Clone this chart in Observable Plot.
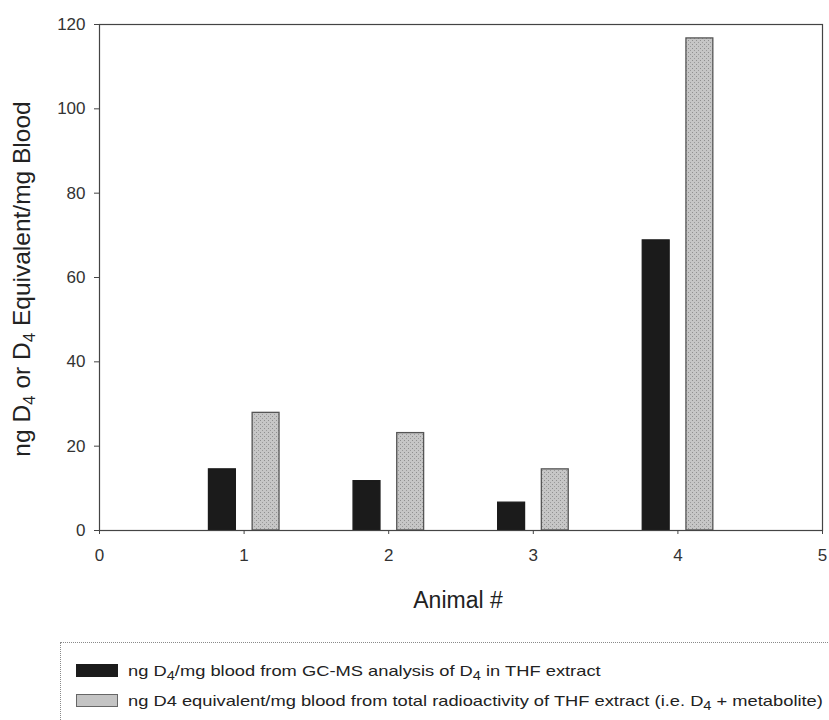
<!DOCTYPE html>
<html>
<head>
<meta charset="utf-8">
<script src="https://cdn.jsdelivr.net/npm/d3@7"></script>
<script src="https://cdn.jsdelivr.net/npm/@observablehq/plot@0.6"></script>
<style>
  body { margin: 0; background: #fff; font-family: "Liberation Sans", Arial, sans-serif; overflow: hidden; }
  #wrap { position: relative; width: 829px; height: 720px; overflow: hidden; }
  #legend { position: absolute; left: 60px; top: 642px; width: 800px; height: 120px;
            border: 1px dotted #8a8a8a; box-sizing: border-box; }
  .row { position: absolute; left: 15px; display: flex; align-items: center; font-size: 15px; color: #222; white-space: nowrap; }
  .sw { width: 42px; height: 13px; margin-right: 10px; box-sizing: border-box; flex: none; }
  .txt { display: inline-block; transform-origin: left center; transform: scaleX(1.22); }
  sub { font-size: 0.8em; vertical-align: -0.35em; line-height: 0; }
</style>
</head>
<body>
<div id="wrap"></div>
<script>
const animals = [1, 2, 3, 4];
const gcms = [14.5, 11.7, 6.6, 68.8];
const radio = [27.9, 23.1, 14.5, 116.7];
const xTicks = [0, 1, 2, 3, 4, 5];
const yTicks = [0, 20, 40, 60, 80, 100, 120];

const gcmsRows = animals.map((a, i) => ({animal: a, value: gcms[i]}));
const radioRows = animals.map((a, i) => ({animal: a, value: radio[i]}));
const offG = -0.15, offR = 0.152, half = 0.093;

const plot = Plot.plot({
  width: 829,
  height: 640,
  marginLeft: 99,
  marginRight: 7,
  marginTop: 24,
  marginBottom: 110,
  style: {fontFamily: "Liberation Sans, Arial, sans-serif", background: "#fff", color: "#333"},
  x: {domain: [0, 5]},
  y: {domain: [0, 120]},
  marks: [
    Plot.rectY(gcmsRows, {
      x1: d => d.animal + offG - half, x2: d => d.animal + offG + half, y: "value",
      fill: "#1b1b1b", stroke: "#1b1b1b", strokeWidth: 1.3
    }),
    Plot.rectY(radioRows, {
      x1: d => d.animal + offR - half, x2: d => d.animal + offR + half, y: "value",
      fill: "url(#stipple)", stroke: "#555", strokeWidth: 1.3
    }),
    Plot.frame({stroke: "#444", strokeWidth: 1.2}),
    Plot.axisY({ticks: yTicks, tickSize: 5, tickPadding: 9, fontSize: 17, label: null, stroke: "#444"}),
    Plot.axisX({ticks: xTicks, tickFormat: d3.format("d"), tickSize: 4, tickPadding: 14, fontSize: 17, label: null, stroke: "#444"})
  ]
});
document.getElementById("wrap").appendChild(plot);

const svg = d3.select(plot);
// stipple pattern for the grey bars
const pat = svg.insert("defs", ":first-child").append("pattern")
  .attr("id", "stipple").attr("patternUnits", "userSpaceOnUse")
  .attr("width", 4).attr("height", 4);
pat.append("rect").attr("width", 4).attr("height", 4).attr("fill", "#c6c6c6");
pat.append("rect").attr("x", 0).attr("y", 0).attr("width", 1).attr("height", 1).attr("fill", "#8f8f8f");
pat.append("rect").attr("x", 2).attr("y", 2).attr("width", 1).attr("height", 1).attr("fill", "#9a9a9a");

// X label
svg.append("text")
  .attr("x", 458).attr("y", 608)
  .attr("text-anchor", "middle")
  .attr("font-size", 23).attr("fill", "#222")
  .text("Animal #");
// Y label with subscripts
const yl = svg.append("text")
  .attr("transform", "translate(30,279) rotate(-90)")
  .attr("text-anchor", "middle")
  .attr("font-size", 24.5).attr("fill", "#222");
const parts = [["ng D", false], ["4", true], [" or D", false], ["4", true], [" Equivalent/mg Blood", false]];
parts.forEach(([t, sub]) => {
  const ts = yl.append("tspan").text(t);
  if (sub) ts.attr("font-size", 17).attr("baseline-shift", "-30%");
});

// Legend
const legend = document.createElement("div");
legend.id = "legend";
legend.innerHTML = `
  <div class="row" style="top:19px"><div class="sw" style="background:#1b1b1b"></div>
    <span class="txt">ng D<sub>4</sub>/mg blood from GC-MS analysis of D<sub>4</sub> in THF extract</span></div>
  <div class="row" style="top:49px"><div class="sw" style="background:#c4c4c4;border:1px solid #666"></div>
    <span class="txt">ng D4 equivalent/mg blood from total radioactivity of THF extract (i.e. D<sub>4</sub> + metabolite)</span></div>`;
document.getElementById("wrap").appendChild(legend);
</script>
</body>
</html>
